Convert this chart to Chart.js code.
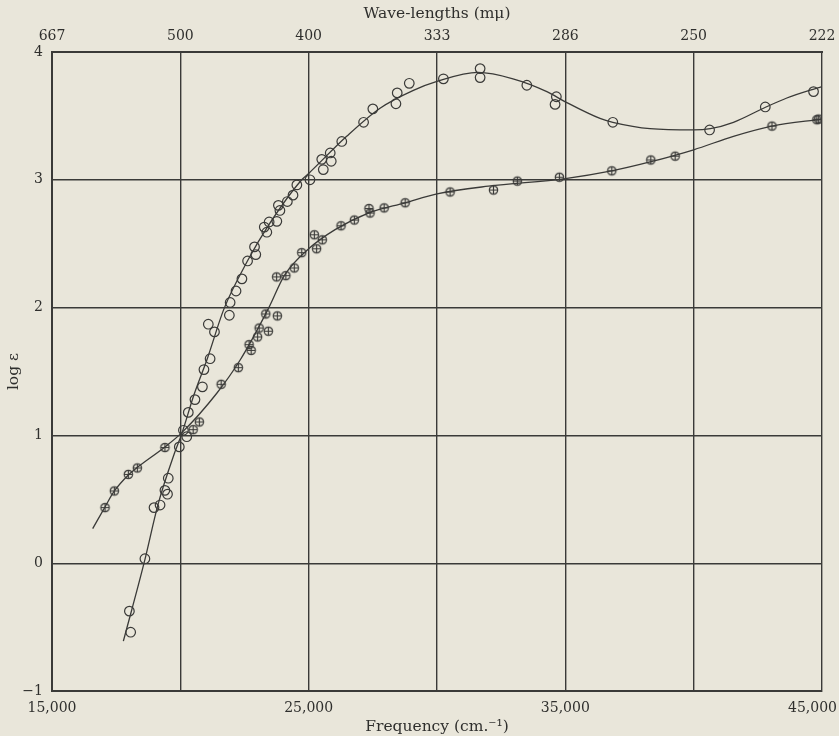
<!DOCTYPE html>
<html>
<head>
<meta charset="utf-8">
<script src="https://cdn.jsdelivr.net/npm/chart.js@4.4.1/dist/chart.umd.min.js"></script>
<style>
  html, body { margin: 0; padding: 0; background: #e9e6da; }
  #wrap { width: 839px; height: 736px; }
</style>
</head>
<body>
<div id="wrap"><canvas id="chart" width="839" height="736"></canvas></div>
<script>
// open circles (upper curve at high frequency)
var upperX = [18015, 18065, 18620, 18975, 19210, 19400, 19500, 19530, 19960, 20120, 20250,
              20310, 20570, 20860, 20920, 21160, 21090, 21330, 21910, 21940, 22170, 22400,
              22620, 22890, 22940, 23270, 23370, 23460, 23760, 23820, 23880, 24170, 24390,
              24540, 25050, 25510, 25570, 25840, 25880, 26290, 27140, 27500, 28400, 28450,
              28920, 30250, 31680, 31680, 33500, 34650, 34600, 36850, 40620, 42790, 44670];
var upperY = [-0.375, -0.54, 0.035, 0.435, 0.455, 0.57, 0.54, 0.665, 0.91, 1.04, 0.99,
              1.18, 1.28, 1.38, 1.515, 1.60, 1.87, 1.81, 1.94, 2.04, 2.13, 2.225,
              2.365, 2.475, 2.415, 2.63, 2.59, 2.67, 2.675, 2.80, 2.76, 2.83, 2.88,
              2.96, 3.00, 3.16, 3.08, 3.21, 3.145, 3.30, 3.45, 3.555, 3.595, 3.68,
              3.755, 3.79, 3.87, 3.80, 3.74, 3.65, 3.59, 3.45, 3.39, 3.57, 3.69];

// crossed circles (lower curve at high frequency)
var lowerX = [17065, 17430, 17975, 18325, 19400, 20500, 20740, 21590, 22260, 22680, 22760,
              23010, 23070, 23430, 23330, 23780, 23750, 24110, 24440, 24730, 25220, 25310,
              25530, 26260, 26780, 27350, 27390, 27940, 28760, 30510, 32200, 33130, 34770,
              36810, 38330, 39280, 43050, 44800, 44870];
var lowerY = [0.435, 0.565, 0.695, 0.745, 0.905, 1.045, 1.105, 1.40, 1.53, 1.71, 1.665,
              1.77, 1.84, 1.815, 1.95, 1.935, 2.24, 2.25, 2.31, 2.43, 2.57, 2.46,
              2.53, 2.64, 2.685, 2.775, 2.74, 2.78, 2.82, 2.905, 2.92, 2.99, 3.02,
              3.07, 3.155, 3.185, 3.42, 3.47, 3.475];

// drawn curves
var upperCurveX = [17780, 18585, 19145, 19770, 20050, 20535, 21050, 21700, 22630, 23390, 24730,
                   25000, 26480, 27780, 29080, 30000, 31600, 32960, 34280, 35000, 36350, 36850,
                   38300, 40000, 40650, 41550, 42720, 43630, 45000];
var upperCurveY = [-0.61, 0.0, 0.47, 0.86, 1.01, 1.32, 1.60, 1.99, 2.37, 2.63, 3.0,
                   3.05, 3.34, 3.56, 3.70, 3.77, 3.84, 3.79, 3.69, 3.61, 3.48, 3.45,
                   3.40, 3.39, 3.40, 3.45, 3.56, 3.64, 3.73];
var lowerCurveX = [16585, 17065, 17430, 17975, 18325, 19400, 20050, 21420, 22330, 23450, 24050,
                   25000, 26030, 27330, 28760, 30000, 32000, 35000, 36800, 38300, 40000, 41550,
                   43050, 45000];
var lowerCurveY = [0.27, 0.44, 0.565, 0.69, 0.75, 0.91, 1.02, 1.33, 1.59, 2.0, 2.25,
                   2.46, 2.61, 2.74, 2.82, 2.89, 2.95, 3.01, 3.07, 3.14, 3.235, 3.34,
                   3.42, 3.475];

var freqTicks = [15000, 25000, 35000, 45000];
var freqLabels = ['15,000', '25,000', '35,000', '45,000'];
var waveTicks = [15000, 20000, 25000, 30000, 35000, 40000, 45000];
var waveLabels = ['667', '500', '400', '333', '286', '250', '222'];
var yTicks = [-1, 0, 1, 2, 3, 4];
var yLabels = ['\u22121', '0', '1', '2', '3', '4'];

var ink = '#3a3a38';
var textColor = '#2f2f2d';
var serif = { family: '"DejaVu Serif", serif', size: 14 };
var titleFont = { family: '"DejaVu Serif", serif', size: 15.5 };

function pairs(xs, ys) {
    return xs.map(function(x, i) { return { x: x, y: ys[i] }; });
}

function crossedCircle(r) {
    var c = document.createElement('canvas');
    var s = Math.ceil(r * 2 + 4);
    c.width = s; c.height = s;
    var g = c.getContext('2d');
    var m = s / 2;
    g.strokeStyle = ink;
    g.lineWidth = 1.2;
    g.beginPath();
    g.arc(m, m, r, 0, Math.PI * 2);
    g.stroke();
    g.beginPath();
    g.moveTo(m - r, m); g.lineTo(m + r, m);
    g.moveTo(m, m - r); g.lineTo(m, m + r);
    g.stroke();
    return c;
}

var bottomLabels = {
    id: 'bottomLabels',
    afterDraw: function(chart) {
        var ctx = chart.ctx;
        var xs = chart.scales.x;
        ctx.save();
        ctx.font = '14px "DejaVu Serif", serif';
        ctx.fillStyle = textColor;
        ctx.textAlign = 'center';
        ctx.textBaseline = 'middle';
        freqTicks.forEach(function(v, i) {
            var t = freqLabels[i];
            var w = ctx.measureText(t).width;
            var px = Math.min(xs.getPixelForValue(v), chart.width - w / 2 - 2);
            ctx.fillText(t, px, chart.chartArea.bottom + 17);
        });
        ctx.restore();
    }
};

var chart = document.getElementById('chart').getContext('2d');
var spectrumChart = new Chart(chart, {
    type: 'scatter',
    data: {
        datasets: [{
            data: pairs(upperCurveX, upperCurveY),
            showLine: true,
            pointRadius: 0,
            borderColor: ink,
            borderWidth: 1.3,
            cubicInterpolationMode: 'monotone'
        }, {
            data: pairs(lowerCurveX, lowerCurveY),
            showLine: true,
            pointRadius: 0,
            borderColor: ink,
            borderWidth: 1.3,
            cubicInterpolationMode: 'monotone'
        }, {
            data: pairs(upperX, upperY),
            pointStyle: 'circle',
            pointRadius: 4.8,
            pointBorderWidth: 1.2,
            pointBorderColor: ink,
            pointBackgroundColor: 'rgba(0,0,0,0)'
        }, {
            data: pairs(lowerX, lowerY),
            pointStyle: crossedCircle(4.2),
            pointRadius: 4
        }]
    },
    options: {
        responsive: false,
        animation: false,
        layout: {
            padding: { left: 0, top: 0, right: 17, bottom: 0 }
        },
        scales: {
            x: {
                type: 'linear',
                position: 'bottom',
                min: 15000,
                max: 45000,
                ticks: { stepSize: 5000, display: false },
                grid: { color: ink, lineWidth: 1.4, drawTicks: false },
                border: { color: ink, width: 2 },
                title: {
                    display: true,
                    text: 'Frequency (cm.\u207b\u00b9)',
                    color: textColor,
                    font: titleFont,
                    padding: { top: 0, bottom: 0 }
                },
                afterFit: function(s) { s.height = 45; s.paddingLeft = 0; s.paddingRight = 0; }
            },
            wave: {
                type: 'linear',
                position: 'top',
                min: 15000,
                max: 45000,
                ticks: {
                    stepSize: 5000,
                    padding: 7,
                    color: textColor,
                    font: serif,
                    callback: function(value) { return waveLabels[waveTicks.indexOf(value)]; }
                },
                grid: { display: false, drawTicks: false },
                border: { display: true, color: ink, width: 2 },
                title: {
                    display: true,
                    text: 'Wave-lengths (m\u03bc)',
                    color: textColor,
                    font: titleFont,
                    padding: { top: 5, bottom: 0 }
                },
                afterFit: function(s) { s.height = 52; s.paddingLeft = 0; s.paddingRight = 0; }
            },
            y: {
                min: -1,
                max: 4,
                ticks: {
                    stepSize: 1,
                    padding: 9,
                    color: textColor,
                    font: serif,
                    callback: function(value) { return yLabels[yTicks.indexOf(value)]; }
                },
                grid: { color: ink, lineWidth: 1.4, drawTicks: false },
                border: { color: ink, width: 2 },
                title: {
                    display: true,
                    text: 'log \u03b5',
                    color: textColor,
                    font: titleFont,
                    padding: { top: 5, bottom: 0 }
                },
                afterFit: function(s) { s.width = 52; s.paddingTop = 0; s.paddingBottom = 0; }
            }
        },
        plugins: {
            legend: { display: false },
            tooltip: { enabled: false }
        }
    },
    plugins: [bottomLabels]
});
</script>
</body>
</html>
